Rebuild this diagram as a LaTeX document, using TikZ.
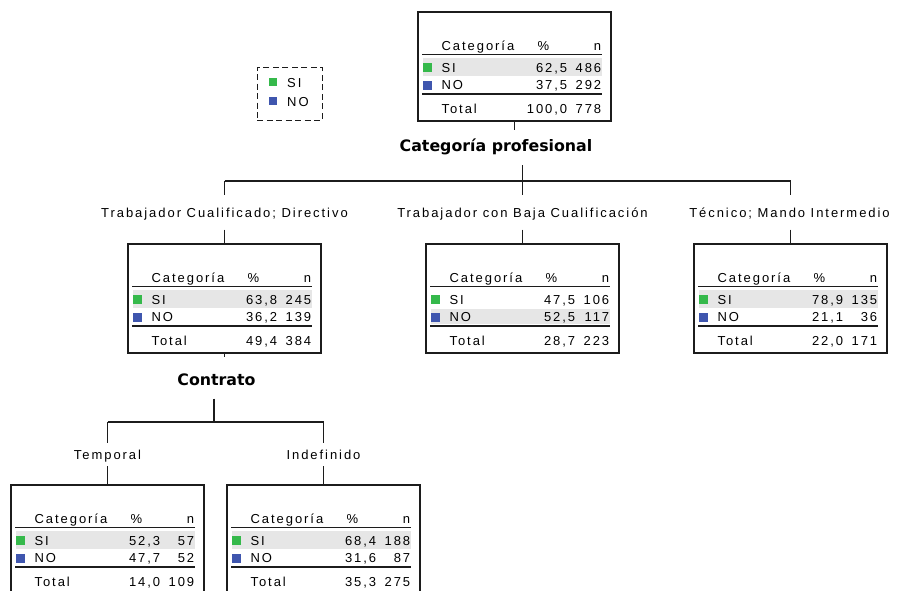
\documentclass[tikz,border=0pt]{standalone}
\usepackage{fontspec}
\setmainfont{Liberation Sans}
\newfontfamily\cellfont[LetterSpace=15]{Liberation Sans}
\newfontfamily\splitfont{DejaVu Sans}

\definecolor{siGreen}{HTML}{35B94B}
\definecolor{noBlue}{HTML}{3F56AE}
\definecolor{bandGrey}{HTML}{E6E6E6}
\definecolor{ink}{HTML}{1C1C1C}

\tikzset{
  treebox/.style={draw=ink, line width=1.2pt, minimum width=193pt,
    minimum height=109pt, inner sep=0pt},
  cell/.style={inner sep=0pt, text=black,
    font=\cellfont\fontsize{13}{15}\selectfont},
  rule/.style={draw=ink, line width=1.6pt},
  wire/.style={draw=ink, line width=1.3pt},
  branchlabel/.style={cell, text height=10pt, text depth=0pt, inner xsep=2pt},
  splitlabel/.style={inner xsep=0pt, inner ysep=13.5pt, text depth=0pt,
    text=black, font=\splitfont\bfseries\fontsize{15.8}{18}\selectfont},
}

% one node table: #1 box name, #2-#7 figures, #8/#9 top/bottom of the shaded row
\newcommand\nodetable[9]{%
  \begin{scope}[shift={(#1.north west)}]
    \fill[bandGrey] (6,#8) rectangle (185,#9);
    \fill[siGreen] (6,52) rectangle (15,61);
    \fill[noBlue] (6,69.5) rectangle (15,78.5);
    \draw[rule] (5,43) -- (185,43);
    \draw[rule] (5,82.5) -- (185,82.5);
    \node[cell, anchor=base west] (#1-hc) at (24,39) {Categoría};
    \node[cell, anchor=base] (#1-hp) at (126,39) {\%};
    \node[cell, anchor=base east] (#1-hn) at (184,39) {n};
    \node[cell, anchor=base west] (#1-sl) at (24,61.5) {SI};
    \node[cell, anchor=base east] (#1-sp) at (150,61.5) {#2};
    \node[cell, anchor=base east] (#1-sn) at (184,61.5) {#3};
    \node[cell, anchor=base west] (#1-nl) at (24,78.5) {NO};
    \node[cell, anchor=base east] (#1-np) at (150,78.5) {#4};
    \node[cell, anchor=base east] (#1-nn) at (184,78.5) {#5};
    \node[cell, anchor=base west] (#1-tl) at (24,102.5) {Total};
    \node[cell, anchor=base east] (#1-tp) at (150,102.5) {#6};
    \node[cell, anchor=base east] (#1-tn) at (184,102.5) {#7};
  \end{scope}}

\begin{document}
\begin{tikzpicture}[x=1pt, y=-1pt]
  \useasboundingbox (0,0) rectangle (898,590);
  \fill[white] (0,0) rectangle (898,590);
  \clip (0,0) rectangle (898,590);

  % legend
  \node[draw=ink, line width=1pt, dash pattern=on 6pt off 3.5pt,
        minimum width=65pt, minimum height=53pt, inner sep=0pt]
        (legend) at (289.5,93.5) {};
  \fill[siGreen] (269,78) rectangle (277,86);
  \fill[noBlue] (269,96.5) rectangle (277,104.5);
  \node[cell, anchor=base west] (legSI) at (287,87.5) {SI};
  \node[cell, anchor=base west] (legNO) at (287,106) {NO};

  % tree boxes
  \node[treebox] (root) at (514.5,66.5) {};
  \node[treebox] (c1) at (224.5,298.5) {};
  \node[treebox] (c2) at (522.5,298.5) {};
  \node[treebox] (c3) at (790.5,298.5) {};
  \node[treebox] (g1) at (107.5,539.5) {};
  \node[treebox] (g2) at (323.5,539.5) {};

  \nodetable{root}{62,5}{486}{37,5}{292}{100,0}{778}{47}{65}
  \nodetable{c1}{63,8}{245}{36,2}{139}{49,4}{384}{47}{65}
  \nodetable{c2}{47,5}{106}{52,5}{117}{28,7}{223}{66}{81}
  \nodetable{c3}{78,9}{135}{21,1}{36}{22,0}{171}{47}{65}
  \nodetable{g1}{52,3}{57}{47,7}{52}{14,0}{109}{47}{65}
  \nodetable{g2}{68,4}{188}{31,6}{87}{35,3}{275}{47}{65}

  % split variables
  \node[splitlabel, anchor=base] (v1) at (496,151.5) {Categoría profesional};
  \node[splitlabel, anchor=base] (v2) at (216.5,385) {Contrato};

  % branch labels
  \node[branchlabel, inner ysep=12pt, anchor=base] (l1) at (224.5,217.5) {Trabajador Cualificado; Directivo};
  \node[branchlabel, inner ysep=12pt, anchor=base] (l2) at (522.5,217.5) {Trabajador con Baja Cualificación};
  \node[branchlabel, inner ysep=12pt, anchor=base] (l3) at (789.5,217.5) {Técnico; Mando Intermedio};
  \node[branchlabel, inner ysep=6.5pt, anchor=base] (l4) at (107.5,459.5) {Temporal};
  \node[branchlabel, inner ysep=6.5pt, anchor=base] (l5) at (323.5,459.5) {Indefinido};

  % first split
  \coordinate (r1) at (514.5,130);
  \coordinate (b1) at (522.5,181);
  \draw[wire] (root.south) -- (r1);
  \draw[wire] (v1.south -| b1) -- (b1);
  \draw[wire] (c1.north |- b1) -- (c3.north |- b1);
  \draw[wire] (c1.north |- b1) -- (c1.north |- l1.north);
  \draw[wire] (c2.north |- b1) -- (c2.north |- l2.north);
  \draw[wire] (c3.north |- b1) -- (c3.north |- l3.north);
  \draw[wire] (c1.north |- l1.south) -- (c1.north);
  \draw[wire] (c2.north |- l2.south) -- (c2.north);
  \draw[wire] (c3.north |- l3.south) -- (c3.north);

  % second split
  \coordinate (r2) at (224.5,357);
  \coordinate (b2) at (214,422);
  \draw[wire] (c1.south) -- (r2);
  \draw[wire] (v2.south -| b2) -- (b2);
  \draw[wire] (g1.north |- b2) -- (g2.north |- b2);
  \draw[wire] (g1.north |- b2) -- (l4.north);
  \draw[wire] (g2.north |- b2) -- (l5.north);
  \draw[wire] (l4.south) -- (g1.north);
  \draw[wire] (l5.south) -- (g2.north);
\end{tikzpicture}
\end{document}
